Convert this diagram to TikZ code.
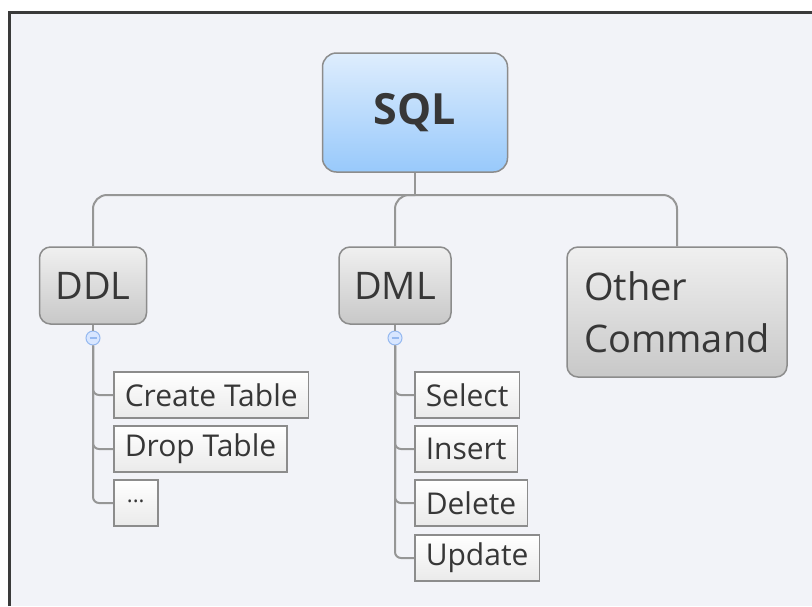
\documentclass[tikz,border=0pt]{standalone}
\usepackage{fontspec}
\setmainfont{Open Sans}
\usetikzlibrary{positioning}

\definecolor{paper}{RGB}{242,243,248}
\definecolor{frameink}{RGB}{58,58,58}
\definecolor{ink}{RGB}{55,55,55}
\definecolor{linegray}{RGB}{150,150,150}
\definecolor{boxgray}{RGB}{140,140,140}
\definecolor{skytop}{RGB}{222,237,253}
\definecolor{skybot}{RGB}{152,201,251}
\definecolor{greytop}{RGB}{240,240,240}
\definecolor{greybot}{RGB}{200,200,200}
\definecolor{leafbot}{RGB}{234,234,234}
\definecolor{foldfill}{RGB}{216,230,255}
\definecolor{foldline}{RGB}{150,185,240}

\begin{document}
\begin{tikzpicture}[x=1pt,y=-1pt,
	line/.style={draw=linegray, line width=2pt},
	root/.style={draw=boxgray, line width=1.5pt, rounded corners=14pt, top color=skytop, bottom color=skybot, text=ink, minimum width=185pt, minimum height=119pt, font=\fontsize{43}{50}\selectfont\bfseries},
	topic/.style={draw=boxgray, line width=1.5pt, rounded corners=11pt, top color=greytop, bottom color=greybot, text=ink, font=\fontsize{38}{52}\selectfont},
	leaf/.style={draw=boxgray, line width=1.5pt, top color=white, bottom color=leafbot, text=ink, anchor=west, inner xsep=11pt, minimum height=46pt, font=\fontsize{30}{34}\selectfont},
	fold/.style={circle, draw=foldline, fill=foldfill, line width=1pt, minimum size=14pt, inner sep=0pt}]
				\useasboundingbox (0,0) rectangle (812,606);
				\fill [white] (0,0) rectangle (812,606);
				\fill [paper] (11,14) rectangle (812,606);
				\draw [frameink, line width=3pt] (9.5,606) -- (9.5,12.5) -- (812,12.5);
				\node [root] (sql) at (415,112.5) {SQL};
				\node [topic, minimum width=107pt, minimum height=77pt] (ddl) at (93,285.5) {DDL};
				\node [topic, minimum width=112pt, minimum height=77pt] (dml) at (395,285.5) {DML};
				\node [topic, minimum width=220pt, minimum height=130pt, align=left] (other) at (677,312) {Other\\Command};
				\node [fold] (ddlfold) at (93,338) {};
				\node [fold] (dmlfold) at (395,338) {};
				\node [leaf] (create) at (113,395) {Create Table};
				\node [leaf] (drop) at (113,449) {Drop Table};
				\node [leaf, minimum width=44pt, font=\fontsize{22}{26}\selectfont] (etc) at (113,503) {\raisebox{4pt}{...}};
				\node [leaf] (select) at (414,395) {Select};
				\node [leaf] (insert) at (414,449) {Insert};
				\node [leaf] (delete) at (414,503) {Delete};
				\node [leaf] (update) at (414,558) {Update};
				\coordinate (hub) at (415,195);
				\draw [line] (sql) -- (hub);
				\draw [line, rounded corners=14pt] (hub) -| (ddl.north);
				\draw [line, rounded corners=14pt] (hub) -| (dml.north);
				\draw [line, rounded corners=14pt] (hub) -| (other.north);
				\draw [line] (ddl) -- (ddlfold);
				\draw [line] (dml) -- (dmlfold);
				\foreach \c in {create,drop,etc}
					\draw [line, rounded corners=6pt] (ddlfold.south) |- (\c.west);
				\foreach \c in {select,insert,delete,update}
					\draw [line, rounded corners=6pt] (dmlfold.south) |- (\c.west);
				\foreach \f in {ddlfold,dmlfold}
					\draw [foldline, line width=1.2pt] ([xshift=-3.5pt]\f.center) -- ([xshift=3.5pt]\f.center);
\end{tikzpicture}
\end{document}
